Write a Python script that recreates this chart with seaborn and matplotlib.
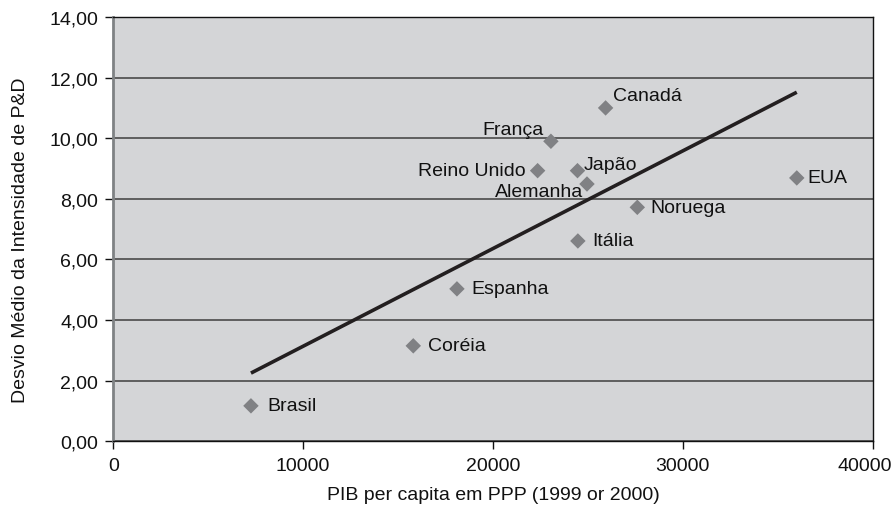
import matplotlib
matplotlib.use("Agg")
import matplotlib.pyplot as plt
import matplotlib.ticker as mticker
from matplotlib.transforms import ScaledTranslation
import numpy as np
import pandas as pd
import seaborn as sns

# Countries, GDP per capita (PPP) and mean R&D intensity deviation
countries = ["Brasil", "Coréia", "Espanha", "Reino Unido", "França", "Japão",
             "Alemanha", "Itália", "Canadá", "Noruega", "EUA"]
pib = [7250, 15800, 18100, 22350, 23050, 24450, 24950, 24470, 25930, 27600, 36000]
desvio = [1.17, 3.15, 5.03, 8.93, 9.90, 8.93, 8.49, 6.61, 11.00, 7.72, 8.69]

x_ticks = [0, 10000, 20000, 30000, 40000]
y_ticks = [0, 2, 4, 6, 8, 10, 12, 14]

df = pd.DataFrame({"pais": countries, "pib": pib, "desvio": desvio})

sns.set_theme(style="white")
plt.rcParams["font.family"] = ["Liberation Sans", "DejaVu Sans"]
FS = 14

fig = plt.figure(figsize=(8.95, 5.06), dpi=100)
ax = fig.add_axes([0.1266, 0.1259, 0.8485, 0.8385])
ax.set_facecolor("#d4d5d7")

# Linear trend line over the data range
sns.regplot(data=df, x="pib", y="desvio", ax=ax, ci=None, scatter=False,
            truncate=True, line_kws={"color": "#231f20", "lw": 2.6,
                                     "solid_capstyle": "butt", "zorder": 4})

sns.scatterplot(data=df, x="pib", y="desvio", ax=ax, marker="D", s=62,
                color="#808184", edgecolor="none", zorder=5)

# Label placement (pixel offsets and alignment)
label_pos = {
    "Brasil": (16, 0, "left"),
    "Coréia": (15, 0, "left"),
    "Espanha": (14, 0, "left"),
    "Reino Unido": (-12, 0, "right"),
    "França": (-7, 12, "right"),
    "Japão": (6, 6, "left"),
    "Alemanha": (-4, -8, "right"),
    "Itália": (14, 0, "left"),
    "Canadá": (7, 12, "left"),
    "Noruega": (13, 0, "left"),
    "EUA": (11, 0, "left"),
}
for name, xv, yv in zip(countries, pib, desvio):
    dx, dy, ha = label_pos[name]
    ax.annotate(name, (xv, yv), xytext=(dx, dy), textcoords="offset pixels",
                ha=ha, va="center", fontsize=FS, color="#111111", zorder=6)

ax.set_xlim(0, 40000)
ax.set_ylim(0, 14)
ax.set_xticks(x_ticks)
ax.set_yticks(y_ticks)
ax.xaxis.set_major_formatter(mticker.FuncFormatter(lambda v, p: f"{int(v)}"))
ax.yaxis.set_major_formatter(mticker.FuncFormatter(lambda v, p: f"{v:.2f}".replace(".", ",")))

ax.grid(axis="y", color="#555555", lw=1.3)
ax.set_axisbelow(True)

for side in ["top", "right", "bottom"]:
    ax.spines[side].set_visible(True)
    ax.spines[side].set_color("#111111")
    ax.spines[side].set_linewidth(1.0)
ax.spines["left"].set_color("#7f8284")
ax.spines["left"].set_linewidth(2.0)

ax.tick_params(axis="both", direction="out", length=6, width=1, color="#111111",
               labelsize=FS, labelcolor="#111111", bottom=True, left=True)
ax.tick_params(axis="x", pad=5)
ax.tick_params(axis="y", pad=5)

# keep the last x tick label inside the figure
fig.canvas.draw()
last = ax.get_xticklabels()[-1]
last.set_transform(last.get_transform() + ScaledTranslation(-0.08, 0, fig.dpi_scale_trans))

ax.set_xlabel("PIB per capita em PPP (1999 or 2000)", fontsize=FS, color="#111111")
ax.set_ylabel("Desvio Médio da Intensidade de P&D", fontsize=FS, color="#111111")
ax.xaxis.set_label_coords(0.5, -0.125, transform=ax.transAxes)
ax.xaxis.label.set_va("center")
ax.yaxis.set_label_coords(-0.122, 0.477, transform=ax.transAxes)
ax.yaxis.label.set_va("center")

fig.savefig("out.png", dpi=100)
